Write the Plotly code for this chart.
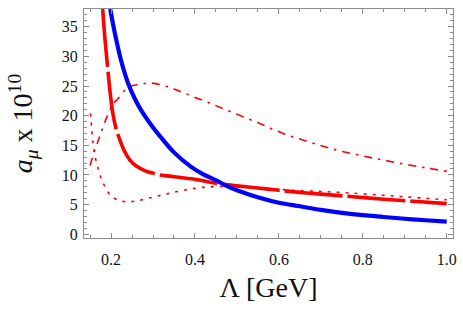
import plotly.graph_objects as go

# Blue solid curve
blue_x = [0.198, 0.21, 0.225, 0.241, 0.26, 0.278, 0.3, 0.317, 0.35, 0.39, 0.42, 0.453,
          0.468, 0.5, 0.556, 0.6, 0.65, 0.7, 0.75, 0.8, 0.85, 0.9, 0.95, 1.0]
blue_y = [38.0, 33.6, 29.0, 25.4, 22.4, 20.2, 18.0, 16.5, 13.8, 11.4, 10.1, 9.0,
          8.4, 7.4, 6.1, 5.3, 4.7, 4.1, 3.6, 3.2, 2.9, 2.6, 2.35, 2.1]

# Red thick long-dashed curve
red_x = [0.180, 0.186, 0.192, 0.198, 0.204, 0.212, 0.221, 0.232, 0.245, 0.26, 0.284, 0.3,
         0.317, 0.35, 0.396, 0.45, 0.468, 0.5, 0.55, 0.6, 0.65, 0.7, 0.77, 0.85, 0.92, 1.0]
red_y = [38.0, 32.5, 28.0, 23.8, 20.5, 17.8, 15.9, 14.0, 12.5, 11.5, 10.6, 10.3,
         10.0, 9.7, 9.3, 8.6, 8.4, 8.15, 7.8, 7.4, 7.05, 6.75, 6.35, 5.9, 5.55, 5.15]

# Red thin dot-dashed curve
dd_x = [0.150, 0.156, 0.162, 0.168, 0.174, 0.185, 0.198, 0.205, 0.217, 0.241, 0.27, 0.293,
        0.32, 0.35, 0.372, 0.396, 0.436, 0.484, 0.55, 0.61, 0.675, 0.737, 0.8, 0.849, 0.9, 0.95, 1.0]
dd_y = [11.6, 13.0, 14.3, 15.5, 16.7, 18.9, 21.0, 22.0, 22.9, 24.8, 25.3, 25.5,
        25.2, 24.5, 23.9, 23.2, 22.1, 20.7, 18.8, 17.0, 15.5, 14.2, 13.2, 12.5, 11.8, 11.2, 10.6]

# Red thin dotted curve
dot_x = [0.151, 0.154, 0.157, 0.161, 0.166, 0.172, 0.178, 0.188, 0.198, 0.215, 0.237, 0.26,
         0.285, 0.309, 0.34, 0.38, 0.42, 0.47, 0.52, 0.58, 0.631, 0.7, 0.767, 0.85, 0.92, 1.0]
dot_y = [20.4, 17.6, 15.3, 13.4, 11.9, 10.4, 9.1, 7.7, 6.6, 5.8, 5.46, 5.6,
         6.0, 6.4, 6.9, 7.5, 7.9, 8.05, 7.95, 7.7, 7.4, 7.2, 6.95, 6.55, 6.2, 5.8]

x_ticks = [0.2, 0.4, 0.6, 0.8, 1.0]
x_ticktext = ["0.2", "0.4", "0.6", "0.8", "1.0"]
y_ticks = [0, 5, 10, 15, 20, 25, 30, 35]

fig = go.Figure()
fig.add_trace(go.Scatter(x=dot_x, y=dot_y, mode="lines",
                         line=dict(color="#ff0000", width=1.6, dash="3px,6px", shape="spline")))
fig.add_trace(go.Scatter(x=dd_x, y=dd_y, mode="lines",
                         line=dict(color="#ff0000", width=1.6, dash="8px,6px,2.5px,6px", shape="spline")))
fig.add_trace(go.Scatter(x=red_x, y=red_y, mode="lines",
                         line=dict(color="#ff0000", width=3.6, dash="58px,5px", shape="spline")))
fig.add_trace(go.Scatter(x=blue_x, y=blue_y, mode="lines",
                         line=dict(color="#0000ff", width=4.2, shape="spline")))

tick_font = dict(family="Liberation Serif", size=16, color="#111")
title_font = dict(family="Liberation Serif", size=28, color="#111")
frame = "#8c8c8c"

fig.update_layout(
    width=463, height=313,
    margin=dict(l=84, r=10, t=9, b=75),
    paper_bgcolor="white", plot_bgcolor="white",
    showlegend=False,
    xaxis=dict(
        range=[0.1355, 1.015], showgrid=False, zeroline=False,
        showline=True, linecolor=frame, linewidth=1, mirror="allticks",
        ticks="inside", ticklen=5, tickcolor=frame, tickwidth=1,
        tickvals=x_ticks, ticktext=x_ticktext, tickfont=tick_font,
        ticklabelstandoff=7, ticklabeloverflow="allow",
        minor=dict(dtick=0.05, tick0=0, ticks="inside", ticklen=3,
                   tickcolor=frame, tickwidth=1, showgrid=False),
        title=dict(text="Λ [GeV]", font=title_font, standoff=10),
        automargin=False,
    ),
    yaxis=dict(
        range=[-0.65, 38.0], showgrid=False, zeroline=False,
        showline=True, linecolor=frame, linewidth=1, mirror="allticks",
        ticks="inside", ticklen=5, tickcolor=frame, tickwidth=1,
        tickvals=y_ticks, tickfont=tick_font,
        ticklabelstandoff=2, ticklabeloverflow="allow",
        minor=dict(dtick=1, tick0=0, ticks="inside", ticklen=3,
                   tickcolor=frame, tickwidth=1, showgrid=False),
        title=dict(text="<i>a</i><sub><i>μ</i></sub> x 10<sup>10</sup>",
                   font=title_font, standoff=20),
        automargin=False,
    ),
)

fig.write_html("out.html", config={"displayModeBar": False},
               post_script="document.body.style.margin='0';document.body.style.padding='0';")
